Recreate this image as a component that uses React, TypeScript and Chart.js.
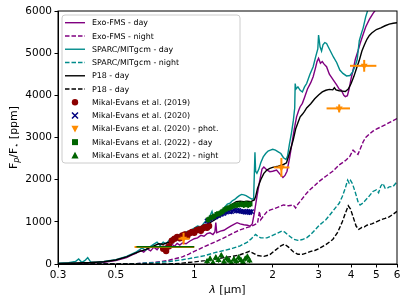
import React, { useEffect, useRef } from 'react';
import { Chart, registerables } from 'chart.js';
Chart.register(...registerables);

const X_TICKS = [0.3, 0.5, 1, 2, 3, 4, 5, 6];
const Y_TICKS = [0, 1000, 2000, 3000, 4000, 5000, 6000];

// ---- Model spectra ----
const fmsDayWl = [0.30,0.35,0.40,0.45,0.50,0.55,0.58,0.60,0.62,0.64,0.66,0.68,0.70,0.72,0.74,0.76,0.78,0.80,0.82,0.84,0.86,0.88,0.90,0.93,0.96,1.00,1.03,1.06,1.09,1.12,1.15,1.18,1.20,1.21,1.22,1.26,1.30,1.34,1.38,1.42,1.46,1.50,1.55,1.60,1.64,1.67,1.70,1.74,1.78,1.82,1.85,1.90,1.95,2.00,2.07,2.14,2.19,2.23,2.27,2.32,2.37,2.42,2.47,2.52,2.55,2.60,2.65,2.72,2.80,2.86,2.92,2.96,3.00,3.05,3.10,3.15,3.22,3.30,3.42,3.52,3.60,3.67,3.75,3.80,3.87,3.93,4.00,4.07,4.15,4.25,4.33,4.45,4.55,4.70,4.85,5.00,5.20,6.00];
const fmsDayFp = [5,15,20,40,80,150,220,260,330,280,360,310,400,340,430,360,440,380,470,420,490,450,500,480,540,600,620,680,660,720,740,700,760,980,740,780,800,850,900,940,980,950,930,920,900,950,1200,1600,1950,2250,2300,2230,2190,2200,2230,2120,2050,2100,2200,2500,2850,3200,3490,3650,3730,3810,3950,4150,4300,4440,4650,4800,4880,4760,4800,4740,4680,4500,4360,4250,4150,4120,4000,3970,3990,4150,4400,4600,4850,5050,5230,5450,5620,5800,5940,6050,6300,7000];

const fmsNightWl = [0.30,0.50,0.60,0.65,0.70,0.75,0.80,0.85,0.90,0.95,1.00,1.05,1.10,1.15,1.20,1.25,1.30,1.35,1.40,1.45,1.50,1.55,1.60,1.65,1.70,1.75,1.78,1.80,1.85,1.90,1.95,2.00,2.10,2.20,2.30,2.40,2.45,2.50,2.60,2.70,2.80,2.90,3.00,3.20,3.40,3.60,3.80,3.95,4.07,4.15,4.25,4.35,4.45,4.55,4.70,4.85,5.00,5.20,5.40,5.60,5.80,6.00];
const fmsNightFp = [0,0,10,25,40,60,90,130,170,230,300,360,420,470,520,570,620,670,720,770,810,840,870,890,930,970,1250,1050,1150,1240,1280,1300,1350,1400,1380,1400,1330,1420,1550,1680,1780,1860,1950,2080,2200,2350,2450,2550,2700,2650,2600,2750,2900,3000,3080,3150,3200,3250,3300,3350,3400,3450];

const sparcDayWl = [0.30,0.33,0.35,0.36,0.37,0.38,0.39,0.40,0.42,0.45,0.50,0.55,0.60,0.63,0.65,0.68,0.70,0.72,0.74,0.76,0.78,0.80,0.82,0.85,0.88,0.90,0.93,0.96,1.00,1.03,1.06,1.10,1.13,1.17,1.19,1.22,1.25,1.28,1.31,1.34,1.37,1.40,1.43,1.46,1.49,1.52,1.55,1.58,1.62,1.66,1.69,1.71,1.72,1.74,1.77,1.80,1.84,1.88,1.92,1.96,2.00,2.05,2.10,2.15,2.20,2.25,2.28,2.32,2.36,2.40,2.43,2.44,2.46,2.50,2.55,2.60,2.65,2.70,2.78,2.86,2.92,2.98,3.00,3.04,3.08,3.12,3.17,3.22,3.30,3.42,3.52,3.62,3.72,3.84,3.96,4.05,4.15,4.22,4.30,4.38,4.45,4.55,4.65,4.75,5.00,6.00];
const sparcDayFp = [20,30,60,120,40,80,150,50,40,60,100,180,290,380,330,420,470,520,440,520,480,560,620,640,700,690,760,780,850,900,880,1000,1050,1250,1050,1120,1200,1280,1350,1420,1440,1500,1530,1580,1620,1650,1640,1620,1580,1540,1540,2650,2200,2150,2250,2400,2540,2620,2680,2700,2720,2700,2660,2620,2520,2480,2560,2850,3100,3400,3700,4280,4150,4200,4120,4080,4200,4280,4500,4680,4900,5100,5430,5150,5050,5200,5250,5230,5100,4910,4780,4600,4520,4460,4470,4550,4700,4850,5300,5470,5600,5860,6050,6200,6500,7000];

const sparcNightWl = [0.30,0.55,0.60,0.70,0.80,0.90,1.00,1.05,1.10,1.20,1.30,1.40,1.50,1.60,1.65,1.68,1.72,1.76,1.80,1.90,2.00,2.10,2.17,2.22,2.30,2.40,2.50,2.60,2.70,2.80,2.90,3.00,3.10,3.20,3.30,3.40,3.50,3.60,3.70,3.80,3.88,3.93,3.98,4.05,4.15,4.25,4.33,4.45,4.55,4.65,4.75,4.85,5.00,5.10,5.20,5.30,5.40,5.50,5.60,5.80,6.00];
const sparcNightFp = [0,0,10,30,60,100,150,175,200,270,320,370,430,520,590,640,700,650,620,620,680,740,780,760,680,590,560,580,620,700,800,900,980,1050,1150,1250,1350,1440,1600,1800,1990,1920,1980,1900,1700,1480,1400,1450,1520,1580,1650,1720,1760,1690,1850,1910,1800,1790,1830,1840,1950];

const p18DayWl = [0.30,0.35,0.40,0.45,0.50,0.55,0.60,0.65,0.70,0.73,0.76,0.80,0.85,0.90,0.95,1.00,1.05,1.10,1.15,1.20,1.25,1.30,1.35,1.40,1.45,1.50,1.55,1.60,1.65,1.70,1.72,1.75,1.80,1.85,1.90,1.95,2.00,2.10,2.20,2.26,2.30,2.35,2.40,2.45,2.50,2.55,2.60,2.65,2.70,2.80,2.90,3.00,3.10,3.20,3.30,3.40,3.45,3.50,3.60,3.70,3.80,3.90,4.00,4.10,4.20,4.30,4.40,4.50,4.60,4.70,4.80,5.00,5.20,5.40,5.60,5.80,6.00];
const p18DayFp = [15,25,35,55,95,170,270,340,430,480,470,520,580,650,720,790,860,920,980,1050,1120,1220,1320,1420,1480,1490,1480,1490,1480,1520,1600,1800,2000,2150,2230,2270,2290,2320,2360,2400,2550,2750,2950,3200,3350,3490,3550,3620,3700,3800,3920,4010,4080,4120,4140,4130,4180,4130,4110,4100,4090,4150,4280,4450,4650,4830,5050,5200,5330,5420,5480,5560,5600,5650,5690,5710,5720];

const p18NightWl = [0.30,0.80,0.90,1.00,1.10,1.20,1.30,1.40,1.50,1.58,1.63,1.68,1.75,1.85,1.95,2.05,2.15,2.22,2.30,2.40,2.50,2.60,2.70,2.80,2.90,3.00,3.20,3.40,3.55,3.70,3.80,3.90,3.98,4.08,4.18,4.28,4.40,4.50,4.60,4.80,5.00,5.20,5.40,5.60,5.80,6.00];
const p18NightFp = [0,0,20,50,80,120,150,180,220,270,300,260,200,180,220,330,430,470,400,290,230,230,260,300,320,360,460,580,750,1000,1200,1380,1300,1100,900,820,870,880,920,950,1000,1050,1080,1120,1180,1250];

// ---- Observations ----
const me19Wl = [0.76,0.78,0.80,0.82,0.84,0.86,0.88,0.90,0.92,0.94,0.96,0.98,1.00,1.02,1.04,1.06,1.08,1.10,1.12,1.14];
const me19Fp = [360,310,420,550,600,640,610,680,700,660,730,760,740,800,820,790,850,880,860,900];
const me19Err = [70,70,70,70,70,70,70,70,70,70,70,70,70,70,70,70,70,70,70,70];

const me20Wl = [1.12,1.15,1.18,1.21,1.24,1.27,1.30,1.33,1.36,1.39,1.42,1.45,1.48,1.51,1.54,1.57,1.60,1.63,1.66];
const me20Fp = [1020,1060,1100,1120,1150,1180,1200,1230,1250,1240,1280,1260,1270,1250,1240,1230,1250,1220,1240];
const me20Err = [60,60,60,60,60,60,60,60,60,60,60,60,60,60,60,60,60,60,60];

const mePhotWl = [0.80,0.91,2.16,3.60,4.49];
const mePhotFp = [405,600,2290,3690,4700];
const mePhotYErr = [0,140,225,95,140];
const mePhotXLo = [0.59,0.87,2.02,3.22,3.96];
const mePhotXHi = [1.00,0.96,2.32,3.96,5.00];
const mePhotSize = [0,4,4,4,4];

const me22DayWl = [0.80,1.13,1.16,1.19,1.22,1.25,1.28,1.31,1.34,1.37,1.40,1.43,1.46,1.49,1.52,1.55,1.58,1.61,1.64];
const me22DayFp = [410,1050,1100,1130,1180,1200,1240,1290,1320,1340,1370,1390,1400,1410,1420,1400,1430,1400,1420];
const me22DayYErr = [0,70,70,70,70,70,70,70,70,70,70,70,70,70,70,70,70,70,70];
const me22DayXLo = [0.60,0,0,0,0,0,0,0,0,0,0,0,0,0,0,0,0,0,0];
const me22DayXHi = [1.00,0,0,0,0,0,0,0,0,0,0,0,0,0,0,0,0,0,0];
const me22DaySize = [0,3.2,3.2,3.2,3.2,3.2,3.2,3.2,3.2,3.2,3.2,3.2,3.2,3.2,3.2,3.2,3.2,3.2,3.2];

const me22NightWl = [1.12,1.15,1.18,1.21,1.24,1.27,1.30,1.33,1.36,1.39,1.42,1.45,1.48,1.51,1.54,1.57,1.60,1.63];
const me22NightFp = [60,120,30,150,90,200,50,130,80,20,110,60,150,90,40,120,170,80];
const me22NightErr = [60,60,60,60,60,60,60,60,60,60,60,60,60,60,60,60,60,60];

const PURPLE = '#800080';
const TEAL = '#008b8b';
const BLACK = '#000000';
const DARKRED = '#8b0000';
const NAVY = '#000080';
const ORANGE = '#ff8c00';
const GREEN = '#006400';
const FONT = "'DejaVu Sans', sans-serif";
const DASH = [4.5, 2];

const line = (xs: number[], ys: number[]) => xs.map((x, i) => ({ x, y: ys[i] }));

const LEGEND = [
  { label: 'Exo-FMS - day', kind: 'line', color: PURPLE, dash: false },
  { label: 'Exo-FMS - night', kind: 'line', color: PURPLE, dash: true },
  { label: 'SPARC/MITgcm - day', kind: 'line', color: TEAL, dash: false },
  { label: 'SPARC/MITgcm - night', kind: 'line', color: TEAL, dash: true },
  { label: 'P18 - day', kind: 'line', color: BLACK, dash: false },
  { label: 'P18 - day', kind: 'line', color: BLACK, dash: true },
  { label: 'Mikal-Evans et al. (2019)', kind: 'circle', color: DARKRED },
  { label: 'Mikal-Evans et al. (2020)', kind: 'x', color: NAVY },
  { label: 'Mikal-Evans et al. (2020) - phot.', kind: 'tridown', color: ORANGE },
  { label: 'Mikal-Evans et al. (2022) - day', kind: 'square', color: GREEN },
  { label: 'Mikal-Evans et al. (2022) - night', kind: 'triup', color: GREEN },
];

const errPlugin = {
  id: 'errbars',
  beforeDatasetDraw(chart: any, args: any) {
    const ds = chart.data.datasets[args.index];
    if (!ds.errColor) return;
    const { ctx, chartArea } = chart;
    const xs = chart.scales.x, ys = chart.scales.y;
    ctx.save();
    ctx.beginPath();
    ctx.rect(chartArea.left, chartArea.top, chartArea.right - chartArea.left, chartArea.bottom - chartArea.top);
    ctx.clip();
    ctx.strokeStyle = ds.errColor;
    ctx.lineWidth = ds.errWidth;
    ds.data.forEach((p: any) => {
      const px = xs.getPixelForValue(p.x);
      const py = ys.getPixelForValue(p.y);
      if (p.ey) {
        ctx.beginPath();
        ctx.moveTo(px, ys.getPixelForValue(p.y - p.ey));
        ctx.lineTo(px, ys.getPixelForValue(p.y + p.ey));
        ctx.stroke();
      }
      if (p.xl) {
        ctx.beginPath();
        ctx.moveTo(xs.getPixelForValue(p.xl), py);
        ctx.lineTo(xs.getPixelForValue(p.xh), py);
        ctx.stroke();
      }
    });
    ctx.restore();
  },
};

function drawMarker(ctx: CanvasRenderingContext2D, kind: string, x: number, y: number, color: string) {
  ctx.save();
  ctx.fillStyle = color;
  ctx.strokeStyle = color;
  ctx.beginPath();
  if (kind === 'circle') {
    ctx.arc(x, y, 3.2, 0, Math.PI * 2);
    ctx.fill();
  } else if (kind === 'x') {
    ctx.lineWidth = 1.5;
    ctx.moveTo(x - 3, y - 3); ctx.lineTo(x + 3, y + 3);
    ctx.moveTo(x + 3, y - 3); ctx.lineTo(x - 3, y + 3);
    ctx.stroke();
  } else if (kind === 'tridown') {
    ctx.moveTo(x - 3.6, y - 3); ctx.lineTo(x + 3.6, y - 3); ctx.lineTo(x, y + 3.6);
    ctx.closePath(); ctx.fill();
  } else if (kind === 'square') {
    ctx.rect(x - 3, y - 3, 6, 6); ctx.fill();
  } else if (kind === 'triup') {
    ctx.moveTo(x - 3.6, y + 3); ctx.lineTo(x + 3.6, y + 3); ctx.lineTo(x, y - 3.6);
    ctx.closePath(); ctx.fill();
  }
  ctx.restore();
}

const decorPlugin = {
  id: 'decor',
  afterDraw(chart: any) {
    const { ctx, chartArea } = chart;
    const { left, right, top, bottom } = chartArea;
    ctx.save();
    // frame (spines)
    ctx.strokeStyle = '#000';
    ctx.lineWidth = 1;
    ctx.strokeRect(left, top, right - left, bottom - top);

    // legend
    const bx = left + 4, by = top + 4, bw = 178, bh = 148;
    const r = 3;
    ctx.beginPath();
    ctx.moveTo(bx + r, by);
    ctx.lineTo(bx + bw - r, by); ctx.arcTo(bx + bw, by, bx + bw, by + r, r);
    ctx.lineTo(bx + bw, by + bh - r); ctx.arcTo(bx + bw, by + bh, bx + bw - r, by + bh, r);
    ctx.lineTo(bx + r, by + bh); ctx.arcTo(bx, by + bh, bx, by + bh - r, r);
    ctx.lineTo(bx, by + r); ctx.arcTo(bx, by, bx + r, by, r);
    ctx.closePath();
    ctx.fillStyle = 'rgba(255,255,255,0.8)';
    ctx.fill();
    ctx.strokeStyle = '#cccccc';
    ctx.lineWidth = 1;
    ctx.stroke();

    ctx.font = `7.9px ${FONT}`;
    ctx.textBaseline = 'middle';
    ctx.textAlign = 'left';
    LEGEND.forEach((e: any, i) => {
      const yy = by + 7.7 + i * 13.27;
      if (e.kind === 'line') {
        ctx.save();
        ctx.strokeStyle = e.color;
        ctx.lineWidth = 1.4;
        ctx.setLineDash(e.dash ? DASH : []);
        ctx.beginPath();
        ctx.moveTo(bx + 3, yy); ctx.lineTo(bx + 23, yy);
        ctx.stroke();
        ctx.restore();
      } else {
        drawMarker(ctx, e.kind, bx + 13, yy, e.color);
      }
      ctx.fillStyle = '#000';
      ctx.fillText(e.label, bx + 30, yy + 0.5);
    });

    // y title with subscripts
    const big = `11px ${FONT}`;
    const small = `8px ${FONT}`;
    const smallIt = `italic 8px ${FONT}`;
    const parts = [
      { t: 'F', f: big, dy: 0 },
      { t: 'p', f: smallIt, dy: 2.5 },
      { t: '/F', f: big, dy: 0 },
      { t: '\u22c6', f: small, dy: 2.5 },
      { t: ' [ppm]', f: big, dy: 0 },
    ];
    let total = 0;
    parts.forEach((p) => { ctx.font = p.f; total += ctx.measureText(p.t).width; });
    ctx.save();
    ctx.translate(14, (top + bottom) / 2);
    ctx.rotate(-Math.PI / 2);
    ctx.fillStyle = '#000';
    ctx.textBaseline = 'middle';
    let cx = -total / 2;
    parts.forEach((p) => {
      ctx.font = p.f;
      ctx.fillText(p.t, cx, p.dy);
      cx += ctx.measureText(p.t).width;
    });
    ctx.restore();

    // x title
    const xparts = [
      { t: '\u03bb', f: `italic 11px ${FONT}` },
      { t: ' [\u03bcm]', f: big },
    ];
    let xt = 0;
    xparts.forEach((p) => { ctx.font = p.f; xt += ctx.measureText(p.t).width; });
    let xx = (left + right) / 2 - xt / 2;
    ctx.fillStyle = '#000';
    ctx.textBaseline = 'middle';
    xparts.forEach((p) => {
      ctx.font = p.f;
      ctx.fillText(p.t, xx, 290);
      xx += ctx.measureText(p.t).width;
    });
    ctx.restore();
  },
};

export default function App() {
  const ref = useRef<HTMLCanvasElement>(null);
  useEffect(() => {
    if (!ref.current) return;
    const mk = (xs: number[], ys: number[], color: string, dash: boolean) => ({
      type: 'line',
      data: line(xs, ys),
      borderColor: color,
      backgroundColor: color,
      borderWidth: 1.4,
      borderDash: dash ? DASH : [],
      pointRadius: 0,
      tension: 0,
      fill: false,
    });
    const datasets: any[] = [
      mk(fmsDayWl, fmsDayFp, PURPLE, false),
      mk(fmsNightWl, fmsNightFp, PURPLE, true),
      mk(sparcDayWl, sparcDayFp, TEAL, false),
      mk(sparcNightWl, sparcNightFp, TEAL, true),
      mk(p18DayWl, p18DayFp, BLACK, false),
      mk(p18NightWl, p18NightFp, BLACK, true),
      {
        type: 'scatter',
        data: me19Wl.map((x, i) => ({ x, y: me19Fp[i], ey: me19Err[i] })),
        pointStyle: 'circle', pointRadius: 3.2, borderWidth: 0,
        backgroundColor: DARKRED, borderColor: DARKRED,
        errColor: DARKRED, errWidth: 1.2,
      },
      {
        type: 'scatter',
        data: me20Wl.map((x, i) => ({ x, y: me20Fp[i], ey: me20Err[i] })),
        pointStyle: 'crossRot', pointRadius: 3, borderWidth: 1.5,
        backgroundColor: NAVY, borderColor: NAVY,
        errColor: NAVY, errWidth: 1.2,
      },
      {
        type: 'scatter',
        data: mePhotWl.map((x, i) => ({ x, y: mePhotFp[i], ey: mePhotYErr[i], xl: mePhotXLo[i], xh: mePhotXHi[i] })),
        pointStyle: 'triangle', rotation: 180, pointRadius: mePhotSize, borderWidth: 0,
        backgroundColor: ORANGE, borderColor: ORANGE,
        errColor: ORANGE, errWidth: 2,
      },
      {
        type: 'scatter',
        data: me22DayWl.map((x, i) => ({ x, y: me22DayFp[i], ey: me22DayYErr[i], xl: me22DayXLo[i], xh: me22DayXHi[i] })),
        pointStyle: 'rect', pointRadius: me22DaySize, borderWidth: 0,
        backgroundColor: GREEN, borderColor: GREEN,
        errColor: GREEN, errWidth: 1.6,
      },
      {
        type: 'scatter',
        data: me22NightWl.map((x, i) => ({ x, y: me22NightFp[i], ey: me22NightErr[i] })),
        pointStyle: 'triangle', pointRadius: 3.6, borderWidth: 0,
        backgroundColor: GREEN, borderColor: GREEN,
        errColor: GREEN, errWidth: 1.2,
      },
    ];
    const N = datasets.length;
    datasets.forEach((d, i) => { d.order = N - i; });

    const chart = new Chart(ref.current, {
      type: 'line',
      data: { datasets },
      options: {
        animation: false,
        responsive: false,
        devicePixelRatio: 1,
        layout: { padding: { left: 0, top: 11, right: 10, bottom: 0 } },
        plugins: { legend: { display: false }, tooltip: { enabled: false } },
        scales: {
          x: {
            type: 'logarithmic',
            min: 0.3,
            max: 6,
            afterBuildTicks: (s: any) => { s.ticks = X_TICKS.map((v) => ({ value: v })); },
            afterFit: (s: any) => { s.height = 40; },
            ticks: {
              autoSkip: false, maxRotation: 0, minRotation: 0, padding: 1.5, color: '#000',
              font: { family: FONT, size: 10.5 },
              callback: (v: any) => String(v),
            },
            grid: { drawOnChartArea: false, drawTicks: true, tickLength: 3.5, color: '#000', lineWidth: 1 },
            border: { display: true, color: '#000', width: 1 },
          },
          y: {
            type: 'linear',
            min: 0,
            max: 6000,
            afterBuildTicks: (s: any) => { s.ticks = Y_TICKS.map((v) => ({ value: v })); },
            afterFit: (s: any) => { s.width = 58; },
            ticks: {
              padding: 2.5, color: '#000',
              font: { family: FONT, size: 10.5 },
              callback: (v: any) => String(v),
            },
            grid: { drawOnChartArea: false, drawTicks: true, tickLength: 3.5, color: '#000', lineWidth: 1 },
            border: { display: true, color: '#000', width: 1 },
          },
        },
      } as any,
      plugins: [errPlugin, decorPlugin],
    } as any);
    return () => chart.destroy();
  }, []);
  return (
    <div style={{ position: 'absolute', left: 0, top: 0, width: 407, height: 304, background: '#fff' }}>
      <canvas ref={ref} width={407} height={304} />
    </div>
  );
}
